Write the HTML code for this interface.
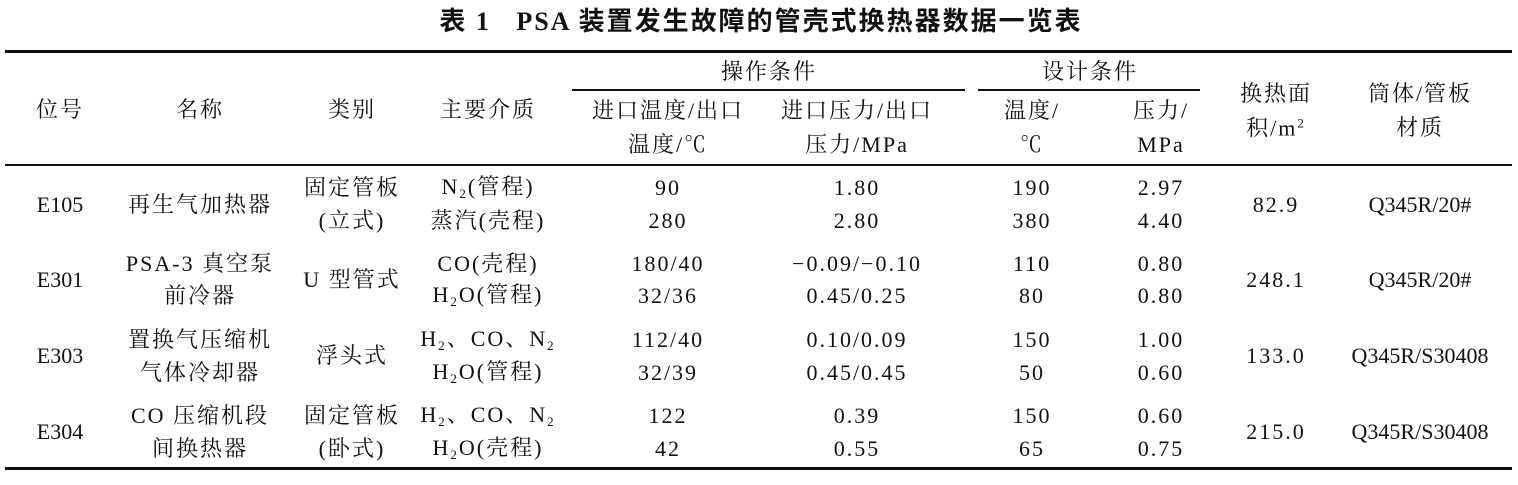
<!DOCTYPE html>
<html><head><meta charset="utf-8"><style>
body{margin:0;background:#fff;width:1518px;height:485px;position:relative;overflow:hidden;font-family:"Liberation Serif","Noto Serif CJK SC",serif;color:#111}
.t{position:absolute;transform:translate(-50%,-50%);white-space:nowrap;font-size:22px;line-height:1;letter-spacing:2px}
.n{letter-spacing:0}
.l{position:absolute;background:#111}
sub{font-size:13px;vertical-align:-4px}
sup{font-size:13px;vertical-align:8px}
</style></head><body>
<div class="t" style="left:761px;top:22px;font-size:26px;font-weight:bold;letter-spacing:2px;font-family:'Liberation Serif','Noto Sans CJK SC',serif">表 1&nbsp;&nbsp;&nbsp;PSA 装置发生故障的管壳式换热器数据一览表</div>
<div class="l" style="left:5px;top:50px;width:1507px;height:3px"></div>
<div class="l" style="left:572px;top:89px;width:393px;height:1.5px"></div>
<div class="l" style="left:978px;top:89px;width:222px;height:1.5px"></div>
<div class="l" style="left:5px;top:164px;width:1507px;height:1.5px"></div>
<div class="l" style="left:5px;top:467px;width:1507px;height:3px"></div>

<div class="t" style="left:769px;top:72px">操作条件</div>
<div class="t" style="left:1090px;top:72px">设计条件</div>
<div class="t" style="left:60px;top:110px">位号</div>
<div class="t" style="left:200px;top:110px">名称</div>
<div class="t" style="left:352px;top:110px">类别</div>
<div class="t" style="left:488px;top:110px">主要介质</div>
<div class="t" style="left:668px;top:111px">进口温度/出口</div>
<div class="t" style="left:668px;top:145px">温度/℃</div>
<div class="t" style="left:857px;top:111px">进口压力/出口</div>
<div class="t" style="left:857px;top:145px">压力/MPa</div>
<div class="t" style="left:1032px;top:111px">温度/</div>
<div class="t" style="left:1032px;top:145px">℃</div>
<div class="t" style="left:1161px;top:111px">压力/</div>
<div class="t" style="left:1161px;top:145px">MPa</div>
<div class="t" style="left:1276px;top:94px">换热面</div>
<div class="t" style="left:1276px;top:128px">积/m<sup>2</sup></div>
<div class="t" style="left:1420px;top:94px">筒体/管板</div>
<div class="t" style="left:1420px;top:128px">材质</div>

<div class="t n" style="left:60px;top:205px">E105</div>
<div class="t" style="left:200px;top:205px">再生气加热器</div>
<div class="t" style="left:352px;top:188px">固定管板</div>
<div class="t" style="left:352px;top:221px">(立式)</div>
<div class="t" style="left:488px;top:188px">N<sub>2</sub>(管程)</div>
<div class="t" style="left:488px;top:221px">蒸汽(壳程)</div>
<div class="t" style="left:668px;top:188px">90</div>
<div class="t" style="left:668px;top:221px">280</div>
<div class="t" style="left:857px;top:188px">1.80</div>
<div class="t" style="left:857px;top:221px">2.80</div>
<div class="t" style="left:1032px;top:188px">190</div>
<div class="t" style="left:1032px;top:221px">380</div>
<div class="t" style="left:1161px;top:188px">2.97</div>
<div class="t" style="left:1161px;top:221px">4.40</div>
<div class="t" style="left:1276px;top:205px">82.9</div>
<div class="t n" style="left:1420px;top:205px">Q345R/20#</div>

<div class="t n" style="left:60px;top:280px">E301</div>
<div class="t" style="left:200px;top:264px">PSA-3 真空泵</div>
<div class="t" style="left:200px;top:296px">前冷器</div>
<div class="t" style="left:352px;top:280px">U 型管式</div>
<div class="t" style="left:488px;top:264px">CO(壳程)</div>
<div class="t" style="left:488px;top:296px">H<sub>2</sub>O(管程)</div>
<div class="t" style="left:668px;top:264px">180/40</div>
<div class="t" style="left:668px;top:296px">32/36</div>
<div class="t" style="left:857px;top:264px">−0.09/−0.10</div>
<div class="t" style="left:857px;top:296px">0.45/0.25</div>
<div class="t" style="left:1032px;top:264px">110</div>
<div class="t" style="left:1032px;top:296px">80</div>
<div class="t" style="left:1161px;top:264px">0.80</div>
<div class="t" style="left:1161px;top:296px">0.80</div>
<div class="t" style="left:1276px;top:280px">248.1</div>
<div class="t n" style="left:1420px;top:280px">Q345R/20#</div>

<div class="t n" style="left:60px;top:356px">E303</div>
<div class="t" style="left:200px;top:340px">置换气压缩机</div>
<div class="t" style="left:200px;top:373px">气体冷却器</div>
<div class="t" style="left:352px;top:356px">浮头式</div>
<div class="t" style="left:488px;top:340px">H<sub>2</sub>、CO、N<sub>2</sub></div>
<div class="t" style="left:488px;top:373px">H<sub>2</sub>O(管程)</div>
<div class="t" style="left:668px;top:340px">112/40</div>
<div class="t" style="left:668px;top:373px">32/39</div>
<div class="t" style="left:857px;top:340px">0.10/0.09</div>
<div class="t" style="left:857px;top:373px">0.45/0.45</div>
<div class="t" style="left:1032px;top:340px">150</div>
<div class="t" style="left:1032px;top:373px">50</div>
<div class="t" style="left:1161px;top:340px">1.00</div>
<div class="t" style="left:1161px;top:373px">0.60</div>
<div class="t" style="left:1276px;top:356px">133.0</div>
<div class="t n" style="left:1420px;top:356px">Q345R/S30408</div>

<div class="t n" style="left:60px;top:432px">E304</div>
<div class="t" style="left:200px;top:416px">CO 压缩机段</div>
<div class="t" style="left:200px;top:449px">间换热器</div>
<div class="t" style="left:352px;top:416px">固定管板</div>
<div class="t" style="left:352px;top:449px">(卧式)</div>
<div class="t" style="left:488px;top:416px">H<sub>2</sub>、CO、N<sub>2</sub></div>
<div class="t" style="left:488px;top:449px">H<sub>2</sub>O(壳程)</div>
<div class="t" style="left:668px;top:416px">122</div>
<div class="t" style="left:668px;top:449px">42</div>
<div class="t" style="left:857px;top:416px">0.39</div>
<div class="t" style="left:857px;top:449px">0.55</div>
<div class="t" style="left:1032px;top:416px">150</div>
<div class="t" style="left:1032px;top:449px">65</div>
<div class="t" style="left:1161px;top:416px">0.60</div>
<div class="t" style="left:1161px;top:449px">0.75</div>
<div class="t" style="left:1276px;top:432px">215.0</div>
<div class="t n" style="left:1420px;top:432px">Q345R/S30408</div>
</body></html>
